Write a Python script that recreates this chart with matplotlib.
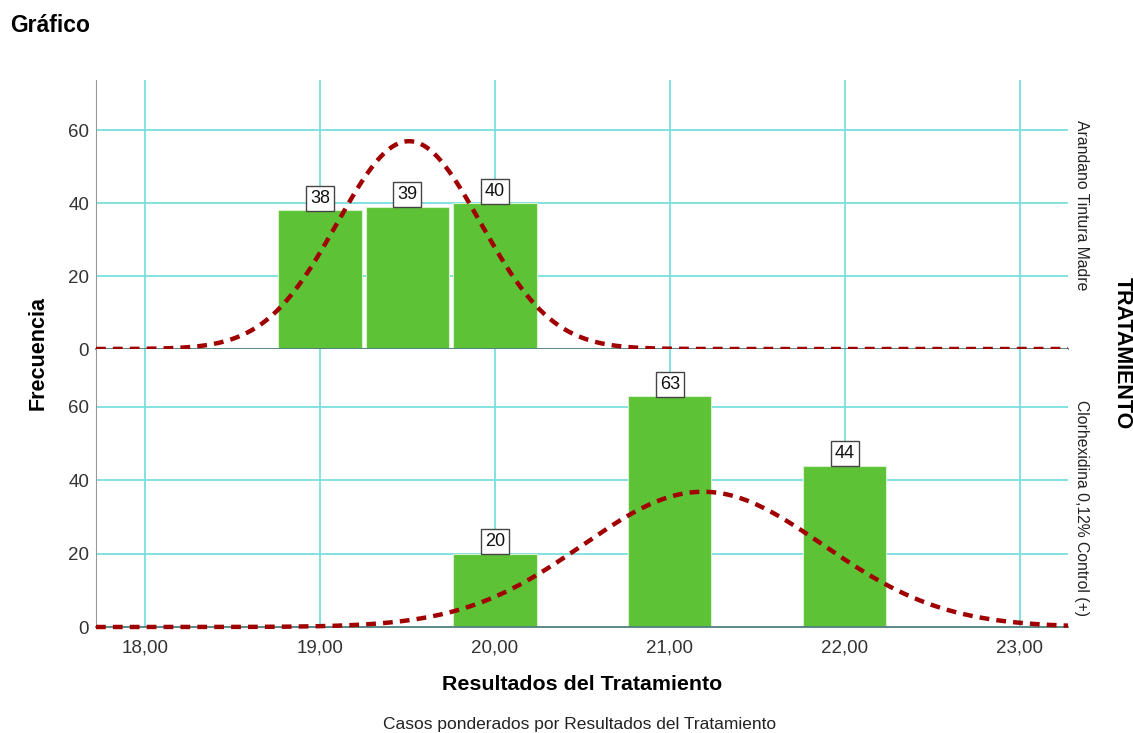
import matplotlib.pyplot as plt
import numpy as np

plt.rcParams['font.family'] = ['Liberation Sans', 'DejaVu Sans']

# Treatment groups and counts per result value (bins of 0.5)
groups = ['Arandano Tintura Madre', 'Clorhexidina 0,12% Control (+)']
values_top = [19.0, 19.5, 20.0]
counts_top = [38, 39, 40]
values_bot = [20.0, 21.0, 22.0]
counts_bot = [20, 63, 44]
xticks = [18, 19, 20, 21, 22, 23]
yticks = [0, 20, 40, 60]

BIN = 0.5
BAR_W = 0.475
GREEN = '#5dc236'
GRID = '#7adede'
CURVE = '#a00000'
BASE = '#4f7f7f'

fig = plt.figure(figsize=(11.33, 7.33), dpi=100)
ax_top = fig.add_axes([96 / 1133, 1 - 349 / 733, 972 / 1133, 269 / 733])
ax_bot = fig.add_axes([96 / 1133, 1 - 627 / 733, 972 / 1133, 278 / 733])

xs = np.linspace(17.72, 23.275, 400)


def panel(ax, vals, cnts, ytop, label, label_y):
    vals = np.array(vals)
    cnts = np.array(cnts)
    ax.set_xlim(17.72, 23.275)
    ax.set_ylim(0, ytop)
    for x in xticks:
        ax.axvline(x, color=GRID, lw=1.3, zorder=0)
    for y in yticks[1:]:
        ax.axhline(y, color=GRID, lw=1.3, zorder=0)
    ax.bar(vals, cnts, width=BAR_W, color=GREEN, edgecolor='#d8f0cc', lw=0.8, zorder=2)
    for v, c in zip(vals, cnts):
        ax.text(v, c + 0.9, str(c), ha='center', va='bottom', fontsize=13, color='#111111',
                bbox=dict(boxstyle='square,pad=0.22', fc='white', ec='#444444', lw=1.0), zorder=5)
    # normal curve from weighted mean and sd
    n = cnts.sum()
    mu = (vals * cnts).sum() / n
    sd = np.sqrt((cnts * (vals - mu) ** 2).sum() / (n - 1))
    dens = n * BIN / (sd * np.sqrt(2 * np.pi)) * np.exp(-0.5 * ((xs - mu) / sd) ** 2)
    ax.plot(xs, dens, color=CURVE, lw=3.2, ls=(0, (2.2, 1.6)), zorder=4, clip_on=False)
    ax.set_yticks(yticks)
    ax.tick_params(length=0, labelsize=13.5, labelcolor='#333333', pad=5)
    for s in ['top', 'right']:
        ax.spines[s].set_visible(False)
    ax.spines['left'].set_color('#999999')
    ax.spines['bottom'].set_color(BASE)
    ax.spines['bottom'].set_linewidth(1.3)
    ax.text(1.006, label_y, label, transform=ax.transAxes, rotation=-90,
            ha='left', va='top', fontsize=11.3, color='#222222')


panel(ax_top, values_top, counts_top, 73.7, groups[0], 0.851)
panel(ax_bot, values_bot, counts_bot, 75.8, groups[1], 0.817)
ax_top.set_xticks(xticks)
ax_top.tick_params(labelbottom=False)
ax_bot.set_xticks(xticks)
ax_bot.set_xticklabels(['%d,00' % x for x in xticks])
ax_bot.tick_params(axis='x', pad=9)

fig.text(10 / 1133, 1 - 25 / 733, 'Gráfico', fontsize=16.5, fontweight='bold', va='center', ha='left')
fig.text(38 / 1133, 1 - 353 / 733, 'Frecuencia', fontsize=15.5, fontweight='bold', rotation=90,
         ha='center', va='center')
fig.text(1122 / 1133, 1 - 353 / 733, 'TRATAMIENTO', fontsize=15.5, fontweight='bold', rotation=-90,
         ha='center', va='center')
fig.text(582 / 1133, 1 - 684 / 733, 'Resultados del Tratamiento', fontsize=15.4, fontweight='bold',
         ha='center', va='center')
fig.text(580 / 1133, 1 - 724 / 733, 'Casos ponderados por Resultados del Tratamiento', fontsize=12.5,
         ha='center', va='center', color='#222222')

fig.savefig('out.png', dpi=100)
